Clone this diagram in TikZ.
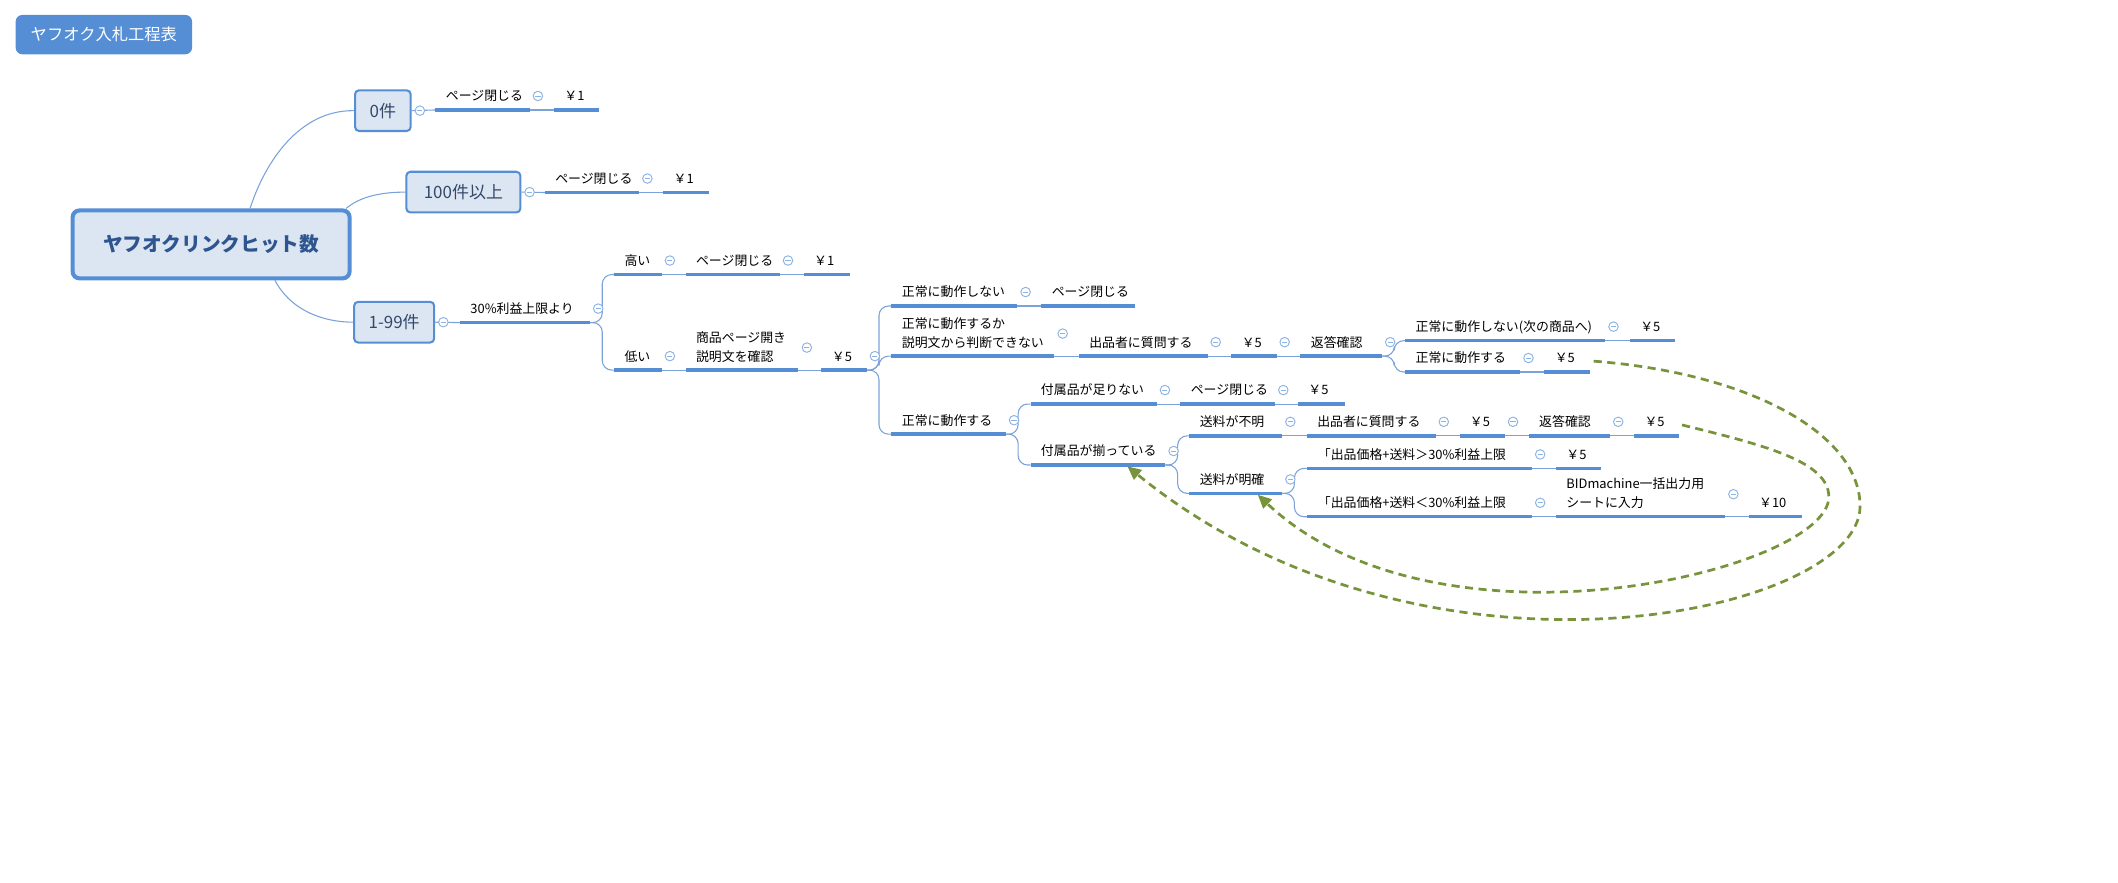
\documentclass[tikz,border=0pt]{standalone}
\usepackage{fontspec}
\setmainfont{Noto Sans CJK JP}
\usetikzlibrary{arrows.meta}
\definecolor{mapblue}{HTML}{558ED5}
\definecolor{mapfill}{HTML}{DCE6F2}
\definecolor{thinblue}{HTML}{7BA3DA}
\definecolor{foldblue}{HTML}{8DB3E2}
\definecolor{loopgreen}{HTML}{77933C}
\definecolor{keytext}{HTML}{34496A}
\definecolor{roottext}{HTML}{2E5590}
\tikzset{
  tp/.style={anchor=south west, inner xsep=7.5pt, inner ysep=4.5pt, text height=7pt, text depth=2pt, align=left, font=\fontsize{9.5}{13.8}\selectfont},
  keybox/.style={draw=mapblue, line width=1.5pt, fill=mapfill, rounded corners=3pt, inner sep=0pt, minimum height=30pt, text=keytext, font=\fontsize{12.5}{14}\selectfont},
  rootbox/.style={draw=mapblue, line width=3pt, fill=mapfill, rounded corners=5pt, minimum width=204pt, minimum height=50pt, text=roottext, font=\fontsize{14.5}{16}\selectfont\bfseries},
  titlebox/.style={fill=mapblue, rounded corners=5pt, minimum width=130pt, minimum height=29pt, text=white, font=\fontsize{12}{14}\selectfont},
  uline/.style={mapblue, line width=2.5pt},
  conn/.style={thinblue, line width=0.8pt},
  forkline/.style={conn, rounded corners=7pt},
  foldmark/.style={circle, draw=foldblue, fill=white, line width=0.7pt, minimum size=7pt, inner sep=0pt,
    path picture={\draw[foldblue, line width=0.7pt] ([xshift=1.6pt]path picture bounding box.west) -- ([xshift=-1.6pt]path picture bounding box.east);}},
  backarrow/.style={loopgreen, line width=2pt, dash pattern=on 6pt off 4pt, -{Triangle[length=10pt, width=9pt]}}
}
\begin{document}
\begin{tikzpicture}[x=1pt, y=-1pt]
  \useasboundingbox (0,0) rectangle (1560,650);
  \node[titlebox] (title) at (76.5,25.5) {ヤフオク入札工程表};
  \node[rootbox] (root) at (155.5,180) {ヤフオクリンクヒット数};
  \node[keybox, minimum width=41pt] (cnt0) at (282,81.5) {0件};
  \node[keybox, minimum width=84pt] (cnt100) at (341.3,141.5) {100件以上};
  \node[keybox, minimum width=59pt] (cnt199) at (290.3,237.3) {1-99件};

  \node[tp, text width=54.1pt] (a1) at (320.7,81) {ページ閉じる};
  \node[tp, text width=17.8pt] (a2) at (408,81) {￥1};
  \node[tp, text width=54.1pt] (b1) at (401.3,141.8) {ページ閉じる};
  \node[tp, text width=18.5pt] (b2) at (488.5,141.8) {￥1};

  \node[tp, text width=80.4pt] (c1) at (338.8,237.6) {30\%利益上限より};
  \node[tp, text width=19.7pt] (c2) at (452.3,202.2) {高い};
  \node[tp, text width=54pt] (c3) at (505,202.2) {ページ閉じる};
  \node[tp, text width=18.6pt] (c4) at (592,202.2) {￥1};
  \node[tp, text width=19.7pt] (d1) at (452.3,272.6) {低い};
  \node[tp, text width=67.6pt] (d2) at (505,272.6) {\begin{tabular}[b]{@{}l@{}}商品ページ開き\\説明文を確認\end{tabular}};
  \node[tp, text width=18pt] (d3) at (605,272.6) {￥5};

  \node[tp, text width=77.4pt] (e1) at (656.6,225.4) {正常に動作しない};
  \node[tp, text width=53.5pt] (e2) at (767,225.4) {ページ閉じる};
  \node[tp, text width=104.4pt] (f1) at (656.6,262.3) {\begin{tabular}[b]{@{}l@{}}正常に動作するか\\説明文から判断できない\end{tabular}};
  \node[tp, text width=79.4pt] (f2) at (794.6,262.3) {出品者に質問する};
  \node[tp, text width=17.9pt] (f3) at (906.9,262.3) {￥5};
  \node[tp, text width=44.7pt] (f4) at (957.8,262.3) {返答確認};
  \node[tp, text width=132pt] (g1) at (1035,250.9) {正常に動作しない(次の商品へ)};
  \node[tp, text width=17.6pt] (g2) at (1200.4,250.9) {￥5};
  \node[tp, text width=69.4pt] (h1) at (1035,274) {正常に動作する};
  \node[tp, text width=17.9pt] (h2) at (1137.5,274) {￥5};

  \node[tp, text width=68.9pt] (i1) at (656.6,319.8) {正常に動作する};
  \node[tp, text width=77.6pt] (j1) at (759,297.6) {付属品が足りない};
  \node[tp, text width=54.4pt] (j2) at (869.4,297.6) {ページ閉じる};
  \node[tp, text width=19pt] (j3) at (956,297.6) {￥5};
  \node[tp, text width=84pt] (k1) at (759,342.5) {付属品が揃っている};
  \node[tp, text width=53pt] (l1) at (876,321) {送料が不明};
  \node[tp, text width=79.5pt] (l2) at (962.5,321) {出品者に質問する};
  \node[tp, text width=18pt] (l3) at (1075,321) {￥5};
  \node[tp, text width=44.5pt] (l4) at (1126,321) {返答確認};
  \node[tp, text width=17.9pt] (l5) at (1203.6,321) {￥5};
  \node[tp, text width=53pt] (n1) at (876,363.4) {送料が明確};
  \node[tp, text width=150pt] (n2) at (963,345) {「出品価格+送料＞30\%利益上限};
  \node[tp, text width=18pt] (n3) at (1146,345) {￥5};
  \node[tp, text width=150pt] (p1) at (963,380.6) {「出品価格+送料＜30\%利益上限};
  \node[tp, text width=109pt] (p2) at (1146,380.6) {\begin{tabular}[b]{@{}l@{}}BIDmachine一括出力用\\シートに入力\end{tabular}};
  \node[tp, text width=23.7pt] (p3) at (1288,380.6) {￥10};

  \draw[conn] ([xshift=28.7pt]root.north) .. controls (195,120) and (220,81) .. (cnt0.west);
  \draw[conn] ([xshift=-4pt]root.north east) .. controls (265,145) and (280,141.5) .. (cnt100.west);
  \draw[conn] ([xshift=47pt]root.south) .. controls (215,230) and (240,237.3) .. (cnt199.west);
  \draw[conn] (cnt0.east) -- (a1.south west);
  \draw[conn] (cnt100.east) -- (b1.south west);
  \draw[conn] (cnt199.east) -- (c1.south west);

  \foreach \a/\b in {a1/a2, b1/b2, c2/c3, c3/c4, d1/d2, d2/d3, e1/e2, f1/f2, f2/f3, f3/f4, g1/g2, h1/h2,
      j1/j2, j2/j3, l1/l2, l2/l3, l3/l4, l4/l5, n2/n3, p1/p2, p2/p3}
    \draw[conn] (\a.south east) -- (\b.south west);
  \foreach \a/\b in {c1/c2, c1/d1, d3/e1, d3/f1, d3/i1, f4/g1, f4/h1, i1/j1, i1/k1, k1/l1, k1/n1, n1/n2, n1/p1}
    \draw[forkline] (\a.south east) -- ++(9,0) |- (\b.south west);

  \foreach \n in {a1,a2,b1,b2,c1,c2,c3,c4,d1,d2,d3,e1,e2,f1,f2,f3,f4,g1,g2,h1,h2,
      i1,j1,j2,j3,k1,l1,l2,l3,l4,l5,n1,n2,n3,p1,p2,p3}
    \draw[uline] (\n.south west) -- (\n.south east);

  \foreach \n in {cnt0,cnt100,cnt199}
    \node[foldmark] (fold\n) at ([xshift=6pt]\n.east) {};
  \foreach \n in {a1,b1,c1,c2,c3,d1,d3,e1,f2,f3,f4,g1,h1,i1,j1,j2,k1,l1,l2,l3,l4,n1,n2,p1}
    \node[foldmark] (fold\n) at ([xshift=6pt,yshift=10.3pt]\n.south east) {};
  \foreach \n in {d2,f1,p2}
    \node[foldmark] (fold\n) at ([xshift=6.3pt,yshift=16.6pt]\n.south east) {};

  \draw[backarrow] ([xshift=3pt,yshift=8pt]h2.south east) .. controls (1290,275) and (1370,320) .. (1370,373)
    .. controls (1370,452) and (1050,522) .. ([xshift=-28pt,yshift=-1pt]k1.south east);
  \draw[backarrow] ([xshift=2pt,yshift=8pt]l5.south east) .. controls (1300,328) and (1347,340) .. (1347,366)
    .. controls (1347,420) and (1060,490) .. ([xshift=-18pt,yshift=-1pt]n1.south east);
\end{tikzpicture}
\end{document}
